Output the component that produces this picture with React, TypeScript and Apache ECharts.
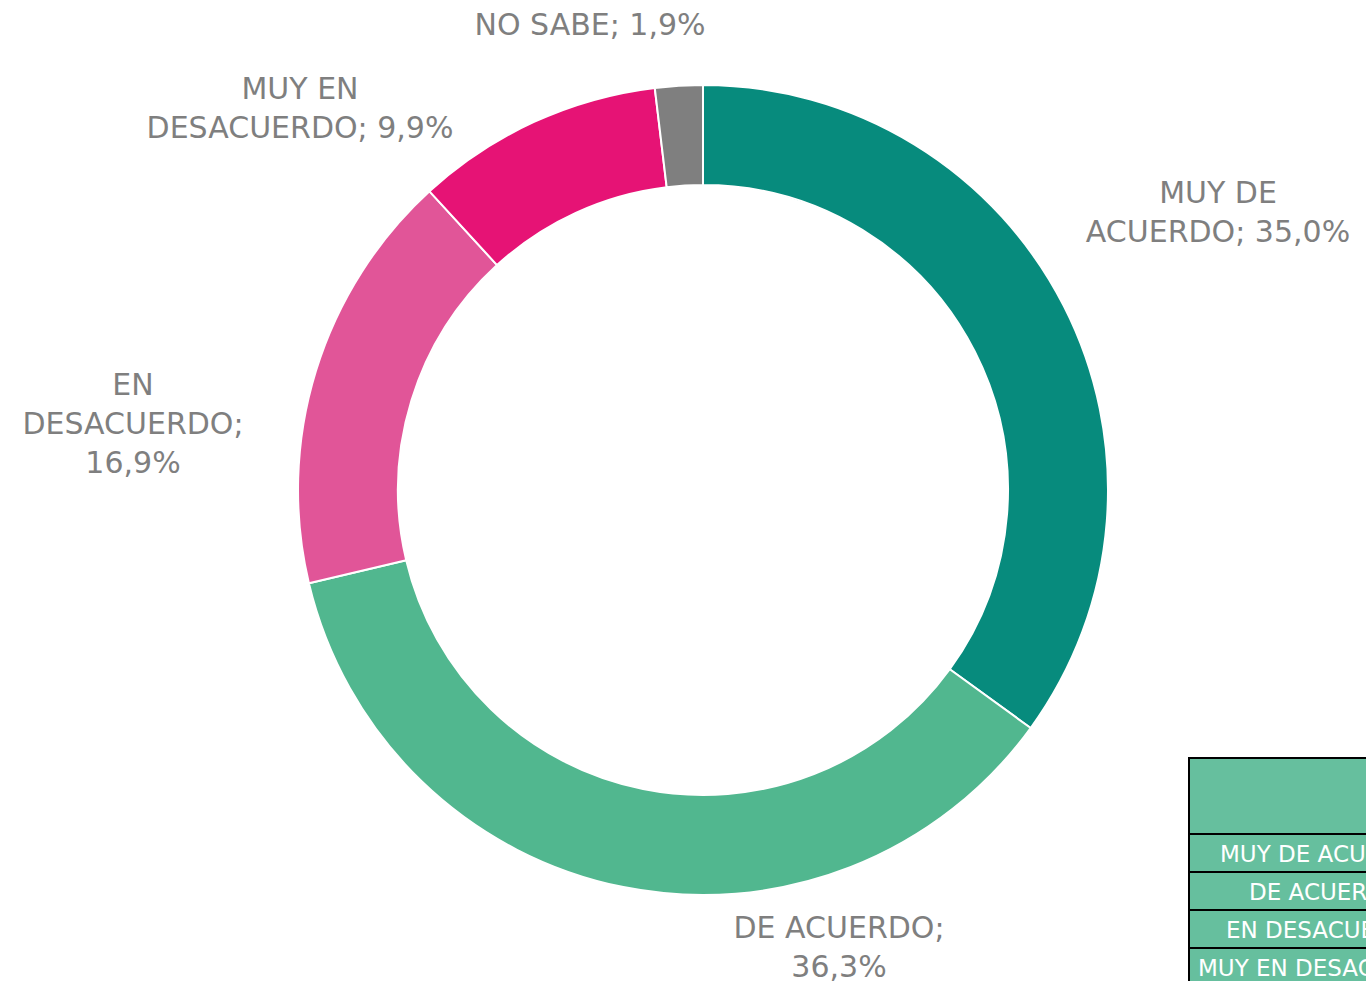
import React, { useEffect, useRef } from "react";
import * as echarts from "echarts";

const categories = ["MUY DE ACUERDO", "DE ACUERDO", "EN DESACUERDO", "MUY EN DESACUERDO", "NO SABE"];
const values = [35.0, 36.3, 16.9, 9.9, 1.9];
const labelTexts = [
  "MUY DE\nACUERDO; 35,0%",
  "DE ACUERDO;\n36,3%",
  "EN\nDESACUERDO;\n16,9%",
  "MUY EN\nDESACUERDO; 9,9%",
  "NO SABE; 1,9%",
];
const colors = ["#078B7D", "#51B78F", "#E15598", "#E61375", "#7F7F7F"];
const labelPos = [
  [1218, 212],
  [839, 947],
  [133, 423],
  [300, 108],
  [590, 24],
];
const tableRows = ["MUY DE ACUERDO", "DE ACUERDO", "EN DESACUERDO", "MUY EN DESACUERDO"];
const tableTextX = [1220, 1249, 1226, 1198];

const FONT = "'DejaVu Sans', 'Open Sans', sans-serif";

export default function App() {
  const ref = useRef<HTMLDivElement>(null);
  useEffect(() => {
    const chart = echarts.init(ref.current!, undefined, { renderer: "svg" });
    const tableGraphics: any[] = [];
    tableGraphics.push({
      type: "rect",
      shape: { x: 1189, y: 758, width: 300, height: 76 },
      style: { fill: "#66BF9E", stroke: "#000", lineWidth: 2 },
    });
    tableRows.forEach((r, i) => {
      const y = 834 + i * 38;
      tableGraphics.push({
        type: "rect",
        shape: { x: 1189, y, width: 300, height: 38 },
        style: { fill: "#66BF9E", stroke: "#000", lineWidth: 2 },
      });
      tableGraphics.push({
        type: "text",
        x: tableTextX[i],
        y: y + 20,
        style: {
          text: r,
          fill: "#fff",
          font: `23px ${FONT}`,
          textAlign: "left",
          textVerticalAlign: "middle",
        },
      });
    });
    chart.setOption({
      animation: false,
      backgroundColor: "#fff",
      graphic: tableGraphics,
      series: [
        {
          type: "pie",
          center: [703, 490],
          radius: [305, 405],
          startAngle: 90,
          clockwise: true,
          silent: true,
          data: categories.map((c, i) => ({
            name: c,
            value: values[i],
            itemStyle: { color: colors[i] },
            label: { formatter: labelTexts[i] },
          })),
          itemStyle: { borderColor: "#fff", borderWidth: 2 },
          label: {
            show: true,
            position: "outside",
            color: "#7F7F7F",
            fontFamily: FONT,
            fontSize: 30,
            lineHeight: 39,
            align: "center",
            overflow: "none",
            width: 400,
            edgeDistance: 0,
            bleedMargin: 0,
          },
          labelLine: { show: false },
          labelLayout: (params: any) => {
            const p = labelPos[params.dataIndex];
            return { x: p[0], y: p[1], align: "center", verticalAlign: "middle" };
          },
        },
      ],
    });
    return () => chart.dispose();
  }, []);
  return (
    <div
      ref={ref}
      style={{ position: "absolute", left: 0, top: 0, width: 1366, height: 981 }}
    />
  );
}
